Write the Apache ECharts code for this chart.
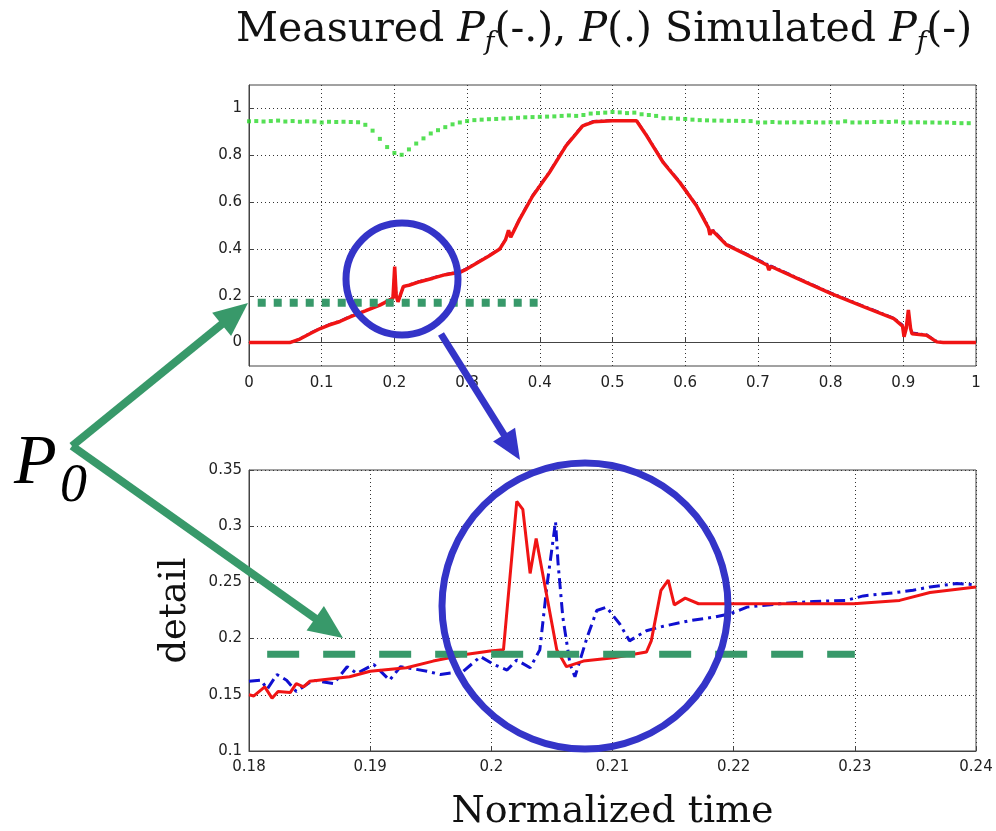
<!DOCTYPE html>
<html>
<head>
<meta charset="utf-8">
<script src="https://cdn.jsdelivr.net/npm/echarts@6/dist/echarts.min.js"></script>
<style>
  html, body { margin: 0; padding: 0; background: #fff; }
  #chart { width: 996px; height: 831px; }
</style>
</head>
<body>
<div id="chart"></div>
<script>
// top panel: whole run, normalized time 0..1
const topTime = [0, 0.056, 0.07, 0.085, 0.098, 0.11, 0.125, 0.139, 0.16, 0.18, 0.198, 0.2004, 0.2025, 0.2049, 0.207, 0.2124, 0.22, 0.235, 0.253, 0.27, 0.29, 0.30, 0.33, 0.345, 0.353, 0.357, 0.36, 0.372, 0.39, 0.413, 0.436, 0.459, 0.474, 0.5, 0.533, 0.547, 0.57, 0.593, 0.616, 0.632, 0.634, 0.637, 0.657, 0.699, 0.713, 0.715, 0.718, 0.754, 0.8, 0.846, 0.887, 0.899, 0.901, 0.904, 0.907, 0.91, 0.912, 0.932, 0.946, 0.955, 1.0]
const topSimulated = [0, 0, 0.015, 0.04, 0.06, 0.075, 0.09, 0.11, 0.135, 0.16, 0.189, 0.324, 0.2, 0.174, 0.18, 0.24, 0.245, 0.26, 0.275, 0.29, 0.30, 0.315, 0.37, 0.4, 0.44, 0.48, 0.45, 0.525, 0.625, 0.725, 0.84, 0.925, 0.943, 0.947, 0.947, 0.883, 0.768, 0.682, 0.582, 0.49, 0.46, 0.48, 0.417, 0.353, 0.33, 0.31, 0.325, 0.274, 0.21, 0.152, 0.102, 0.07, 0.025, 0.06, 0.139, 0.06, 0.038, 0.031, 0.003, 0, 0]
const topMeasured = [0, 0, 0.016, 0.042, 0.061, 0.077, 0.092, 0.112, 0.136, 0.161, 0.19, 0.31, 0.21, 0.178, 0.185, 0.238, 0.247, 0.262, 0.277, 0.292, 0.302, 0.318, 0.372, 0.402, 0.442, 0.47, 0.452, 0.528, 0.628, 0.728, 0.843, 0.928, 0.945, 0.949, 0.949, 0.886, 0.771, 0.685, 0.585, 0.495, 0.47, 0.485, 0.42, 0.356, 0.335, 0.32, 0.328, 0.277, 0.213, 0.155, 0.105, 0.075, 0.04, 0.065, 0.12, 0.065, 0.042, 0.034, 0.005, 0, 0]
// P(.) measured, one dot every 0.01
const dotStep = 0.01
const topPower = [0.945, 0.946, 0.944, 0.946, 0.948, 0.944, 0.946, 0.943, 0.945, 0.944, 0.940, 0.943, 0.942, 0.943, 0.942, 0.941,
  0.93, 0.905, 0.87, 0.835, 0.81, 0.802, 0.825, 0.85, 0.872, 0.893, 0.907, 0.92, 0.932, 0.94,
  0.946, 0.95, 0.952, 0.954, 0.955, 0.957, 0.958, 0.96, 0.962, 0.963, 0.964, 0.965, 0.966, 0.968, 0.97, 0.968, 0.972, 0.978, 0.98, 0.982,
  0.985, 0.983, 0.98, 0.982, 0.975, 0.972, 0.968, 0.958, 0.958, 0.956, 0.955, 0.952, 0.95, 0.949, 0.948, 0.948, 0.947, 0.947, 0.946, 0.946,
  0.94, 0.94, 0.942, 0.94, 0.94, 0.941, 0.94, 0.942, 0.94, 0.94, 0.941, 0.94, 0.945, 0.94, 0.94, 0.941, 0.942, 0.943, 0.942, 0.944,
  0.94, 0.94, 0.941, 0.94, 0.94, 0.939, 0.94, 0.938, 0.937, 0.937]
const topP0Time = [0.012, 0.397]
const topP0 = [0.17, 0.17]
const topYTicks = [0, 0.2, 0.4, 0.6, 0.8, 1]

// bottom panel: detail around the spike
const detailSimTime = [0.18, 0.1804, 0.1813, 0.1819, 0.1824, 0.1834, 0.1839, 0.1845, 0.185, 0.1883, 0.19, 0.193, 0.1952, 0.198, 0.1999, 0.201, 0.2021, 0.2026, 0.2032, 0.2037, 0.2054, 0.2062, 0.2076, 0.2101, 0.2128, 0.2132, 0.214, 0.2146, 0.2151, 0.216, 0.2171, 0.2227, 0.2299, 0.2337, 0.2362, 0.24]
const detailSim = [0.150, 0.149, 0.157, 0.147, 0.153, 0.152, 0.160, 0.157, 0.162, 0.166, 0.171, 0.174, 0.180, 0.186, 0.189, 0.190, 0.322, 0.315, 0.258, 0.289, 0.190, 0.175, 0.180, 0.183, 0.188, 0.198, 0.243, 0.252, 0.230, 0.236, 0.231, 0.231, 0.231, 0.234, 0.241, 0.246]
const detailMeasTime = [0.18, 0.181, 0.1815, 0.1823, 0.1831, 0.1839, 0.1853, 0.187, 0.1881, 0.1889, 0.1903, 0.1916, 0.1925, 0.1947, 0.1958, 0.1977, 0.1991, 0.2002, 0.2013, 0.2021, 0.2032, 0.204, 0.2046, 0.2053, 0.2055, 0.2059, 0.2065, 0.2069, 0.2079, 0.2087, 0.2095, 0.2106, 0.2114, 0.2128, 0.2142, 0.2164, 0.2183, 0.2197, 0.2211, 0.2238, 0.2266, 0.2293, 0.2307, 0.2334, 0.2348, 0.2362, 0.2384, 0.24]
const detailMeas = [0.162, 0.163, 0.155, 0.168, 0.163, 0.153, 0.163, 0.160, 0.175, 0.169, 0.177, 0.163, 0.175, 0.171, 0.168, 0.171, 0.184, 0.177, 0.172, 0.181, 0.174, 0.190, 0.248, 0.304, 0.268, 0.219, 0.177, 0.166, 0.201, 0.225, 0.228, 0.213, 0.198, 0.207, 0.211, 0.216, 0.219, 0.222, 0.228, 0.231, 0.233, 0.234, 0.238, 0.241, 0.243, 0.246, 0.249, 0.248]
const detailP0Time = [0.1815, 0.23]
const detailP0 = [0.186, 0.186]

const RED = '#f01414'
const BLUE_LINE = '#1010d0'
const DOT_GREEN = '#2ad82a'
const ANNO_GREEN = '#38996a'
const ANNO_BLUE = '#3434c8'
const SERIF = 'DejaVu Serif'

function pairs(xs, ys) {
  return xs.map((x, i) => [x, ys[i]])
}

// arrow = shaft + filled head, pixel space
function arrow(x1, y1, x2, y2, color, width, headLen, headHalf) {
  const dx = x2 - x1
  const dy = y2 - y1
  const len = Math.sqrt(dx * dx + dy * dy)
  const ux = dx / len
  const uy = dy / len
  const bx = x2 - ux * headLen
  const by = y2 - uy * headLen
  return [
    {
      type: 'line', z: 100,
      shape: { x1: x1, y1: y1, x2: bx + ux * 2, y2: by + uy * 2 },
      style: { stroke: color, lineWidth: width, lineCap: 'butt' }
    },
    {
      type: 'polygon', z: 100,
      shape: { points: [[x2, y2], [bx - uy * headHalf, by + ux * headHalf], [bx + uy * headHalf, by - ux * headHalf]] },
      style: { fill: color }
    }
  ]
}

const tickFont = { fontFamily: 'DejaVu Sans', fontSize: 15, color: '#222' }
const gridLine = { show: true, lineStyle: { color: '#333', type: [1, 3], width: 1 } }
const axisLn = { show: true, lineStyle: { color: '#444', width: 1 } }
const tickIn = { show: true, inside: true, length: 5, lineStyle: { color: '#444' } }

const myChart = echarts.init(document.getElementById('chart'))

const option = {
  animation: false,
  backgroundColor: '#fff',
  title: {
    left: 231,
    top: -1,
    text: 'Measured {i|P}{s|f}(-.), {i|P}(.) Simulated {i|P}{s|f}(-)',
    textStyle: {
      fontFamily: SERIF,
      fontWeight: 'normal',
      fontSize: 41,
      color: '#111',
      lineHeight: 52,
      rich: {
        i: { fontFamily: SERIF, fontStyle: 'italic', fontSize: 41, color: '#111', lineHeight: 52 },
        s: { fontFamily: SERIF, fontStyle: 'italic', fontSize: 26, color: '#111', lineHeight: 27, verticalAlign: 'bottom' }
      }
    }
  },
  grid: [
    { left: 249, top: 85, width: 727, height: 281, show: true, borderColor: '#444', borderWidth: 1, outerBoundsMode: 'none' },
    { left: 249, top: 470, width: 727, height: 281, show: true, borderColor: '#444', borderWidth: 1, outerBoundsMode: 'none' }
  ],
  xAxis: [
    {
      gridIndex: 0, type: 'value', min: 0, max: 1, interval: 0.1,
      axisLine: axisLn, axisTick: tickIn, splitLine: gridLine,
      axisLabel: Object.assign({ margin: 10 }, tickFont)
    },
    {
      gridIndex: 1, type: 'value', min: 0.18, max: 0.24, interval: 0.01,
      axisLine: axisLn, axisTick: tickIn, splitLine: gridLine,
      axisLabel: Object.assign({ margin: 9 }, tickFont),
      name: 'Normalized time', nameLocation: 'middle', nameGap: 42,
      nameTextStyle: { fontFamily: SERIF, fontSize: 38, color: '#111', verticalAlign: 'top' }
    }
  ],
  yAxis: [
    {
      gridIndex: 0, type: 'value', min: -0.1, max: 1.1,
      axisLine: axisLn,
      axisTick: Object.assign({ customValues: topYTicks }, tickIn),
      splitLine: gridLine,
      axisLabel: Object.assign({ margin: 7, customValues: topYTicks }, tickFont)
    },
    {
      gridIndex: 1, type: 'value', min: 0.1, max: 0.35, interval: 0.05,
      axisLine: axisLn, axisTick: tickIn, splitLine: gridLine,
      axisLabel: Object.assign({ margin: 7 }, tickFont),
      name: 'detail', nameLocation: 'middle', nameGap: 55, nameRotate: 90,
      nameTextStyle: { fontFamily: SERIF, fontSize: 37, color: '#111' }
    }
  ],
  series: [
    {
      name: 'Measured Pf', type: 'line', xAxisIndex: 0, yAxisIndex: 0,
      data: pairs(topTime, topMeasured), showSymbol: false,
      lineStyle: { color: BLUE_LINE, width: 2.5, type: [8, 3, 2, 3] }
    },
    {
      name: 'Simulated Pf', type: 'line', xAxisIndex: 0, yAxisIndex: 0,
      data: pairs(topTime, topSimulated), showSymbol: false,
      lineStyle: { color: RED, width: 3.5 }
    },
    {
      name: 'P', type: 'scatter', xAxisIndex: 0, yAxisIndex: 0,
      data: topPower.map((v, i) => [i * dotStep, v]),
      symbol: 'rect', symbolSize: 4,
      itemStyle: { color: DOT_GREEN }
    },
    {
      name: 'P0 top', type: 'line', xAxisIndex: 0, yAxisIndex: 0,
      data: pairs(topP0Time, topP0), showSymbol: false, z: 5,
      lineStyle: { color: ANNO_GREEN, width: 8, type: [8, 8], cap: 'butt' }
    },
    {
      name: 'Measured Pf detail', type: 'line', xAxisIndex: 1, yAxisIndex: 1,
      data: pairs(detailMeasTime, detailMeas), showSymbol: false,
      lineStyle: { color: BLUE_LINE, width: 3, type: [11, 5, 3, 5] }
    },
    {
      name: 'Simulated Pf detail', type: 'line', xAxisIndex: 1, yAxisIndex: 1,
      data: pairs(detailSimTime, detailSim), showSymbol: false,
      lineStyle: { color: RED, width: 3 }
    },
    {
      name: 'P0 detail', type: 'line', xAxisIndex: 1, yAxisIndex: 1,
      data: pairs(detailP0Time, detailP0), showSymbol: false, z: 5,
      lineStyle: { color: ANNO_GREEN, width: 7, type: [32, 24], cap: 'butt' }
    }
  ],
  graphic: [
    { type: 'circle', z: 100, shape: { cx: 402, cy: 279, r: 56 }, style: { fill: 'none', stroke: ANNO_BLUE, lineWidth: 7 } },
    { type: 'circle', z: 100, shape: { cx: 585, cy: 606, r: 143 }, style: { fill: 'none', stroke: ANNO_BLUE, lineWidth: 7 } },
    ...arrow(441, 334, 520, 460, ANNO_BLUE, 7, 30, 13),
    ...arrow(72, 446, 248, 303, ANNO_GREEN, 8, 34, 15),
    ...arrow(72, 446, 343, 638, ANNO_GREEN, 8, 34, 15),
    { type: 'text', z: 100, left: 14, top: 430, style: { text: 'P', fontFamily: 'Liberation Serif', fontStyle: 'italic', fontSize: 70, fill: '#000' } },
    { type: 'text', z: 100, left: 60, top: 460, style: { text: '0', fontFamily: 'Liberation Serif', fontStyle: 'italic', fontSize: 54, fill: '#000' } }
  ]
}

myChart.setOption(option)
window.addEventListener('resize', function() {
  myChart.resize()
})
</script>
</body>
</html>
